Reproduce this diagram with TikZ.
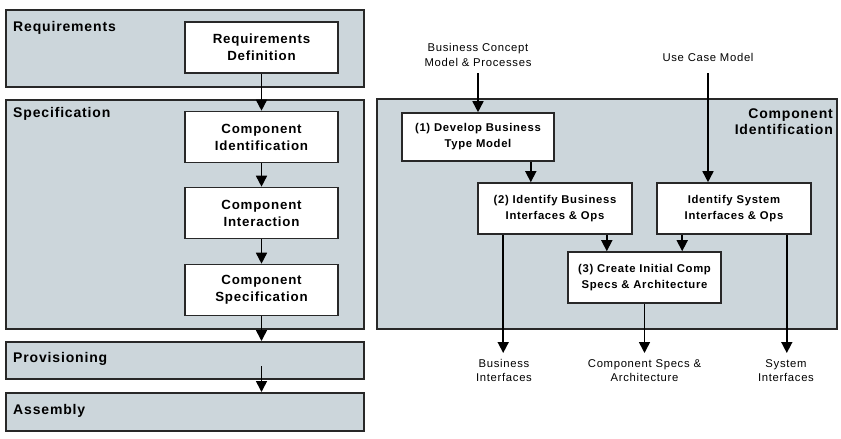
\documentclass[tikz,border=0pt]{standalone}
\usepackage{fontspec}
\setmainfont{Liberation Sans}[LetterSpace=6]
\usetikzlibrary{arrows.meta}
\definecolor{bandfill}{RGB}{204,214,219}
\definecolor{edge}{RGB}{40,40,40}
\tikzset{
  band/.style={draw=edge, line width=1.6pt, fill=bandfill, inner sep=0pt, anchor=north west},
  bandlabel/.style={font=\fontsize{14}{15}\selectfont\bfseries, anchor=north west, inner sep=0pt},
  lbox/.style={draw=edge, line width=1.6pt, fill=white, inner sep=0pt, align=center,
    minimum width=153pt, minimum height=51pt, font=\fontsize{13.3}{17}\selectfont\bfseries},
  rbox/.style={draw=edge, line width=1.6pt, fill=white, inner sep=0pt, align=center,
    minimum width=153pt, minimum height=50pt, font=\fontsize{11.3}{16}\selectfont\bfseries},
  ext/.style={align=center, inner sep=0pt, font=\fontsize{11.3}{14.5}\selectfont},
  arr/.style={draw=black, line width=1.6pt, -{Triangle[width=11pt,length=11pt]}},
}
\begin{document}
\begin{tikzpicture}[x=1pt,y=-1pt]
\useasboundingbox (0,0) rectangle (841,439);
% left bands
\node[band, minimum width=358pt, minimum height=77pt] (req) at (5,9) {};
\node[band, minimum width=358pt, minimum height=229pt] (spec) at (5,99) {};
\node[band, minimum width=358pt, minimum height=37pt] (prov) at (5,341) {};
\node[band, minimum width=358pt, minimum height=38pt] (asm) at (5,392) {};
\node[bandlabel] (reqL) at (13,21) {Requirements};
\node[bandlabel] (specL) at (13,107) {Specification};
\node[bandlabel, anchor=west] (provL) at (13,358.5) {Provisioning};
\node[bandlabel, anchor=west] (asmL) at (13,411) {Assembly};
% left boxes
\node[lbox] (rd) at (261.5,47.5) {Requirements\\Definition};
\node[lbox] (ci) at (261.5,137) {Component\\Identification};
\node[lbox] (cint) at (261.5,213) {Component\\Interaction};
\node[lbox] (cs) at (261.5,290) {Component\\Specification};
\draw[arr] (rd) -- (ci);
\draw[arr] (ci) -- (cint);
\draw[arr] (cint) -- (cs);
\draw[arr] (cs.south) -- (cs.south |- prov.north);
\coordinate (provs) at (261.5,366);
\draw[arr] (provs) -- (provs |- asm.north);
% right band
\node[band, minimum width=460pt, minimum height=230pt] (cid) at (376,98) {};
\node[anchor=north east, align=right, inner sep=0pt, font=\fontsize{14}{15.5}\selectfont\bfseries] (cidL) at (833,109) {Component\\Identification};
% right boxes
\node[rbox, minimum width=152pt, minimum height=48pt] (b1) at (478,137) {\raisebox{-2pt}{(1) Develop Business}\\\raisebox{-2pt}{Type Model}};
\node[rbox, minimum width=154pt, minimum height=51pt] (b2) at (555,208.5) {(2) Identify Business\\Interfaces \& Ops};
\node[rbox, minimum width=154pt, minimum height=51pt] (sys) at (734,208.5) {Identify System\\Interfaces \& Ops};
\node[rbox, minimum width=153pt, minimum height=51pt] (b3) at (644.5,277.5) {(3) Create Initial Comp\\Specs \& Architecture};
% external inputs
\node[ext] (bc) at (478,55) {Business Concept\\Model \& Processes};
\node[ext] (uc) at (708,57.5) {Use Case Model};
\coordinate (bcs) at (478,73);
\coordinate (ucs) at (708,73);
\draw[arr] (bcs) -- (b1.north);
\draw[arr] (ucs) -- (ucs |- sys.north);
% internal arrows
\draw[arr] ([xshift=-24pt]b1.south east) -- ([xshift=-24pt]b1.south east |- b2.north);
\draw[arr] ([xshift=-26pt]b2.south east) -- ([xshift=-26pt]b2.south east |- b3.north);
\draw[arr] ([xshift=26pt]sys.south west) -- ([xshift=26pt]sys.south west |- b3.north);
% outputs
\node[ext, anchor=north] (bi) at (504,359) {Business\\Interfaces};
\node[ext, anchor=north] (csa) at (644.5,359) {Component Specs \&\\Architecture};
\node[ext, anchor=north] (si) at (786,359) {System\\Interfaces};
\draw[arr] ([xshift=26pt]b2.south west) -- ([xshift=26pt,yshift=6pt]b2.south west |- bi.north);
\draw[arr] (b3.south) -- ([yshift=6pt]csa.north);
\draw[arr] ([xshift=-25pt]sys.south east) -- ([xshift=-25pt,yshift=6pt]sys.south east |- si.north);
\end{tikzpicture}
\end{document}
